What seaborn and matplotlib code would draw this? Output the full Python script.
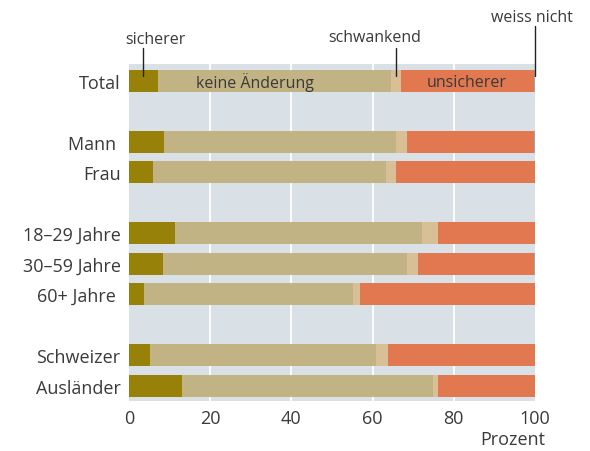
import numpy as np
import pandas as pd
import matplotlib
matplotlib.use('Agg')
import matplotlib.pyplot as plt
import seaborn as sns

# ── Data ──────────────────────────────────────────────────────────────────────
groups = ["Total", "Mann ", "Frau", "18–29 Jahre", "30–59 Jahre", "60+ Jahre ",
          "Schweizer", "Ausländer"]
sicherer    = [7.1, 8.6, 5.9, 11.3, 8.4, 3.7, 5.2, 13.1]
keine       = [57.4, 57.2, 57.4, 60.8, 60.1, 51.5, 55.6, 61.8]
schwankend  = [2.5, 2.7, 2.5, 3.9, 2.7, 1.7, 3.0, 1.1]
unsicherer  = [32.7, 31.3, 34.2, 24.0, 28.5, 43.1, 36.2, 24.0]
weiss_nicht = [0.3, 0.2, 0.0, 0.0, 0.3, 0.0, 0.0, 0.0]

categories = ["sicherer", "keine Änderung", "schwankend", "unsicherer", "weiss nicht"]
colors = ["#978109", "#c1b384", "#d8bf95", "#e2784f", "#9aa4b0"]
ticks = [0, 20, 40, 60, 80, 100]

# row order with blank spacer rows between the groups
order = ["Total", " ", "Mann ", "Frau", "  ", "18–29 Jahre", "30–59 Jahre",
         "60+ Jahre ", "   ", "Schweizer", "Ausländer"]

df = pd.DataFrame({"group": groups, "sicherer": sicherer, "keine Änderung": keine,
                   "schwankend": schwankend, "unsicherer": unsicherer,
                   "weiss nicht": weiss_nicht})
cum = df[categories].cumsum(axis=1)
cum["group"] = df["group"]

sns.set_style("white")
plt.rcParams['font.family'] = ['Open Sans', 'DejaVu Sans']
TXT = "#3a3a3a"

fig = plt.figure(figsize=(5.9, 4.52), dpi=100)
ax = fig.add_axes([129 / 590, 50 / 452, 406 / 590, 337 / 452])
ax.set_facecolor("#d9e0e6")

# stacked look: draw cumulative totals from the outermost segment inwards
for cat, col in reversed(list(zip(categories, colors))):
    sns.barplot(data=cum, x=cat, y="group", order=order, orient="h",
                color=col, width=0.72, saturation=1, linewidth=0,
                ax=ax, zorder=2)

ax.set_xlim(0, 100)
ax.set_ylim(10.5, -0.55)
ax.set_xticks(ticks)
ax.set_xticklabels([str(t) for t in ticks])
for t in ticks[1:-1]:
    ax.axvline(t, color="white", lw=1.3, zorder=1)
ax.tick_params(axis="both", length=0, labelsize=13, colors=TXT)
ax.tick_params(axis="x", pad=6)
ax.tick_params(axis="y", pad=6)
ax.set_xlabel("")
ax.set_ylabel("")
for s in ax.spines.values():
    s.set_visible(False)

fig.text(545 / 590, 1 - 440 / 452, "Prozent", ha="right", va="center",
         fontsize=13, color=TXT)

# labels inside the Total bar
ax.text(31.0, 0.02, "keine Änderung", ha="center", va="center", fontsize=11.5, color=TXT)
ax.text(83.3, 0.05, "unsicherer", ha="center", va="center", fontsize=11.5, color=TXT)

# callouts above the Total bar
t0 = [sicherer[0], keine[0], schwankend[0], unsicherer[0]]
c0 = np.cumsum(t0)
call = [(sicherer[0] / 2, "sicherer", 6.4, -1.38, -1.08),
        (c0[1] + schwankend[0] / 2, "schwankend", 60.5, -1.42, -1.08),
        (100.1, "weiss nicht", 99.2, -2.1, -1.8)]
for x, lab, tx, ty, ly in call:
    ax.plot([x, x], [ly, -0.15], color="#222222", lw=1, clip_on=False, zorder=3)
    ax.text(tx, ty, lab, ha="center", va="center", fontsize=11.5, color=TXT,
            clip_on=False)

fig.savefig("out.png", dpi=100)
